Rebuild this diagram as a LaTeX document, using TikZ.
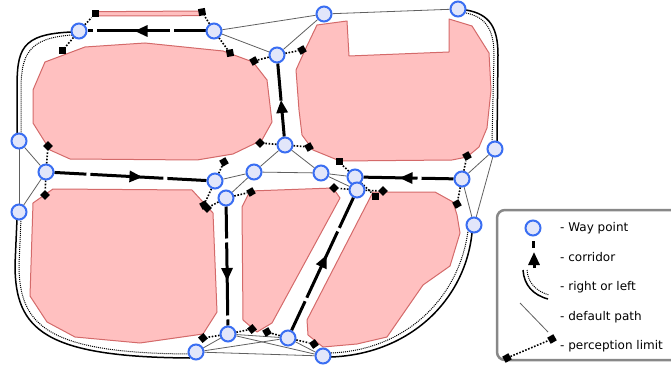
\documentclass[tikz,border=0pt]{standalone}
\usepackage{fontspec}
\setmainfont{DejaVu Sans}
\usetikzlibrary{arrows.meta,decorations.markings,calc}
\pgfdeclarelayer{obs}
\pgfdeclarelayer{lines}
\pgfsetlayers{obs,lines,main}
\definecolor{obsfill}{HTML}{FFC0C0}
\definecolor{obsdraw}{HTML}{D46A6A}
\definecolor{wpfill}{HTML}{E2E6FA}
\definecolor{wpdraw}{HTML}{3A6EF2}
\definecolor{defgray}{HTML}{606060}
\definecolor{boxgray}{HTML}{888888}
\tikzset{
  wp/.style={circle, draw=wpdraw, fill=wpfill, line width=2pt, minimum size=15pt, inner sep=0pt},
  sq/.style={rectangle, fill=black, minimum size=7pt, inner sep=0pt},
  obst/.style={fill=obsfill, draw=obsdraw, line width=1pt, line join=round},
  defpath/.style={draw=defgray, line width=0.8pt},
  perc/.style={draw=black, line width=1.6pt, dash pattern=on 1.6pt off 1.6pt},
  rolsolid/.style={draw=black, line width=1.5pt},
  roldot/.style={draw=black, line width=1pt, dash pattern=on 1pt off 1pt},
  corr/.style={draw=black, line width=3pt, dash pattern=on 73pt off 4pt, dash phase=41pt,
     postaction={decorate}, decoration={markings, mark=at position 0.5 with {\pgftransformxshift{#1}\arrow{Triangle[length=13pt,width=11pt]}}}},
  corr/.default=12pt,
  legtext/.style={anchor=base west, inner sep=0pt, font=\fontsize{12}{14}\selectfont},
}
\begin{document}
\begin{tikzpicture}[x=1pt,y=-1pt]
\useasboundingbox (0,0) rectangle (671,366);

% obstacles
\begin{pgfonlayer}{obs}
\draw[obst] (97,11.7) -- (200,11) -- (200,15.7) -- (97,16) -- cycle;
\draw[obst] (45,62) -- (85,47) -- (145,43) -- (223,51) -- (253,62) -- (267,80) -- (272,122) -- (262,140) -- (233,154) -- (197,160) -- (70,159) -- (50,150) -- (33,123) -- (33,90) -- cycle;
\draw[obst] (317,25) -- (347,21) -- (349,56) -- (449,52) -- (449,19) -- (472,26) -- (489,53) -- (491,90) -- (487,128) -- (479,147) -- (467,157) -- (452,160) -- (340,161) -- (313,150) -- (302,135) -- (299,110) -- (296,70) -- (305,50) -- cycle;
\draw[obst] (33,203) -- (53,189) -- (192,190) -- (213,213) -- (217,312) -- (203,334) -- (140,343) -- (75,337) -- (47,322) -- (30,296) -- cycle;
\draw[obst] (242,207) -- (250,191) -- (333,188) -- (340,198) -- (272,323) -- (257,332) -- (243,320) -- cycle;
\draw[obst] (373,192) -- (435,192) -- (453,202) -- (457,215) -- (460,233) -- (450,266) -- (423,285) -- (387,337) -- (357,344) -- (323,347) -- (308,335) -- (307,320) -- cycle;
\end{pgfonlayer}

% way points
\node[wp] (W1) at (79,31) {};
\node[wp] (W2) at (214,31) {};
\node[wp] (W3) at (324,14) {};
\node[wp] (W4) at (458,9) {};
\node[wp] (W5) at (277,55) {};
\node[wp] (W6) at (19,141) {};
\node[wp] (W7) at (46,172) {};
\node[wp] (W8) at (19,212) {};
\node[wp] (W9) at (285,145) {};
\node[wp] (W10) at (254,172) {};
\node[wp] (W11) at (321,173) {};
\node[wp] (W12) at (215,181) {};
\node[wp] (W13) at (226,198) {};
\node[wp] (W14) at (355,177) {};
\node[wp] (W15) at (357,190) {};
\node[wp] (W16) at (462,179) {};
\node[wp] (W17) at (495,149) {};
\node[wp] (W18) at (228,334) {};
\node[wp] (W19) at (196,352) {};
\node[wp] (W20) at (288,338) {};
\node[wp] (W21) at (323,356) {};
\node[wp] (W22) at (474,225) {};

% perception limit squares
\node[sq] (s1) at (95,14) {};
\node[sq] (s2) at (62,51) {};
\node[sq, rotate=10] (s3) at (202,12) {};
\node[sq, rotate=10] (s4) at (230,53) {};
\node[sq, rotate=30] (s5) at (254,61) {};
\node[sq, rotate=30] (s6) at (302,50) {};
\node[sq, rotate=45] (s7) at (260,143) {};
\node[sq, rotate=30] (s8) at (309,147) {};
\node[sq, rotate=45] (s9) at (48,146) {};
\node[sq, rotate=45] (s10) at (45,195) {};
\node[sq, rotate=30] (s11) at (224,162) {};
\node[sq, rotate=30] (s12) at (204,205) {};
\node[sq, rotate=45] (s13) at (207,208) {};
\node[sq, rotate=30] (s14) at (251,192) {};
\node[sq, rotate=40] (s15) at (203,338) {};
\node[sq, rotate=40] (s16) at (252,329) {};
\node[sq, rotate=30] (s17) at (267,332) {};
\node[sq, rotate=35] (s18) at (314,344) {};
\node[sq] (s19) at (339,162) {};
\node[sq] (s20) at (375,196) {};
\node[sq, rotate=45] (s21) at (334,188) {};
\node[sq, rotate=45] (s22) at (383,191) {};
\node[sq, rotate=30] (s23) at (467,156) {};
\node[sq, rotate=30] (s24) at (457,204) {};

\begin{pgfonlayer}{lines}
% default paths
\draw[defpath] (W2) -- (W3);
\draw[defpath] (W2) -- (W5);
\draw[defpath] (W3) -- (W5);
\draw[defpath] (W3) -- (W4);
\draw[defpath] (W6) -- (W7);
\draw[defpath] (W6) -- (W8);
\draw[defpath] (W7) -- (W8);
\draw[defpath] (W9) -- (W10);
\draw[defpath] (W9) -- (W11);
\draw[defpath] (W10) -- (W11);
\draw[defpath] (W10) -- (W12);
\draw[defpath] (W10) -- (W13);
\draw[defpath] (W11) -- (W14);
\draw[defpath] (W11) -- (W15);
\draw[defpath] (W16) -- (W17);
\draw[defpath] (W16) -- (W22);
\draw[defpath] (W17) -- (W22);
\draw[defpath] (W18) -- (W19);
\draw[defpath] (W18) -- (W20);
\draw[defpath] (W18) -- (W21);
\draw[defpath] (W19) -- (W20);
\draw[defpath] (W19) -- (W21);
\draw[defpath] (W20) -- (W21);

% right or left
\draw[rolsolid] ($(W1)+(-7,1)$) .. controls (20,34) and (17,50) .. (17,90) -- ($(W6)+(-2,-7)$);
\draw[roldot] ($(W1)+(-7,4)$) .. controls (28,38) and (21,55) .. (21,90) -- ($(W6)+(2,-7)$);
\draw[rolsolid] ($(W8)+(-2,7)$) -- (15,265) .. controls (15,330) and (45,357) .. ($(W19)+(-6,6)$);
\draw[roldot] ($(W8)+(2,7)$) -- (19,265) .. controls (19,326) and (48,353) .. ($(W19)+(-7,2)$);
\draw[rolsolid] ($(W21)+(8,1)$) .. controls (410,354) and (465,300) .. ($(W22)+(-2,8)$);
\draw[roldot] ($(W21)+(8,-3)$) .. controls (406,350) and (459,298) .. ($(W22)+(-6,6)$);
\draw[rolsolid] ($(W4)+(8,1)$) .. controls (490,14) and (498,28) .. (498,55) -- ($(W17)+(2,-8)$);
\draw[roldot] ($(W4)+(8,4)$) .. controls (486,17) and (494,30) .. (494,55) -- ($(W17)+(-3,-8)$);

% perception limits
\draw[perc] (W1) -- (s1);
\draw[perc] (W1) -- (s2);
\draw[perc] (W2) -- (s3);
\draw[perc] (W2) -- (s4);
\draw[perc] (W5) -- (s5);
\draw[perc] (W5) -- (s6);
\draw[perc] (W9) -- (s7);
\draw[perc] (W9) -- (s8);
\draw[perc] (W7) -- (s9);
\draw[perc] (W7) -- (s10);
\draw[perc] (W12) -- (s11);
\draw[perc] (W12) -- (s12);
\draw[perc] (W13) -- (s13);
\draw[perc] (W13) -- (s14);
\draw[perc] (W18) -- (s15);
\draw[perc] (W18) -- (s16);
\draw[perc] (W20) -- (s17);
\draw[perc] (W20) -- (s18);
\draw[perc] (W14) -- (s19);
\draw[perc] (W14) -- (s20);
\draw[perc] (W15) -- (s21);
\draw[perc] (W15) -- (s22);
\draw[perc] (W16) -- (s23);
\draw[perc] (W16) -- (s24);

% corridors
\draw[corr] (W2) -- (W1);
\draw[corr=0pt] (W9) -- (W5);
\draw[corr] (W7) -- (W12);
\draw[corr=15pt] (W13) -- (W18);
\draw[corr=10pt] (W20) -- (W15);
\draw[corr=9pt] (W16) -- (W14);

% legend box
\draw[boxgray, line width=2.5pt, rounded corners=8pt, fill=white] (497,210) rectangle (690,360);
\end{pgfonlayer}

% legend
\node[wp] (Lwp) at (533,228) {};
\coordinate (Lc1) at (533,241);
\coordinate (Lc2) at (533,248);
\coordinate (Lc3) at (534,268);
\coordinate (Lc4) at (534,252);
\draw[line width=3pt] (Lc1) -- (Lc2);
\draw[line width=3pt, -{Triangle[length=13pt,width=11pt]}] (Lc3) -- (Lc4);
\coordinate (Lr1) at (523,270);
\coordinate (Lr2) at (548,299);
\coordinate (Lr3) at (527,270);
\coordinate (Lr4) at (549,295);
\draw[rolsolid] (Lr1) .. controls (524,285) and (533,295) .. (Lr2);
\draw[roldot] (Lr3) .. controls (528,283) and (536,291) .. (Lr4);
\coordinate (Ld1) at (520,303);
\coordinate (Ld2) at (548,332);
\draw[defpath] (Ld1) -- (Ld2);
\node[sq, rotate=30] (Lp1) at (507,358) {};
\node[sq, rotate=30] (Lp2) at (552,339) {};
\draw[perc] (Lp1) -- (Lp2);

\node[legtext] (T1) at (560,231) {- Way point};
\node[legtext] (T2) at (560,261) {- corridor};
\node[legtext] (T3) at (560,290) {- right or left};
\node[legtext] (T4) at (560,320) {- default path};
\node[legtext] (T5) at (560,349) {- perception limit};
\end{tikzpicture}
\end{document}
